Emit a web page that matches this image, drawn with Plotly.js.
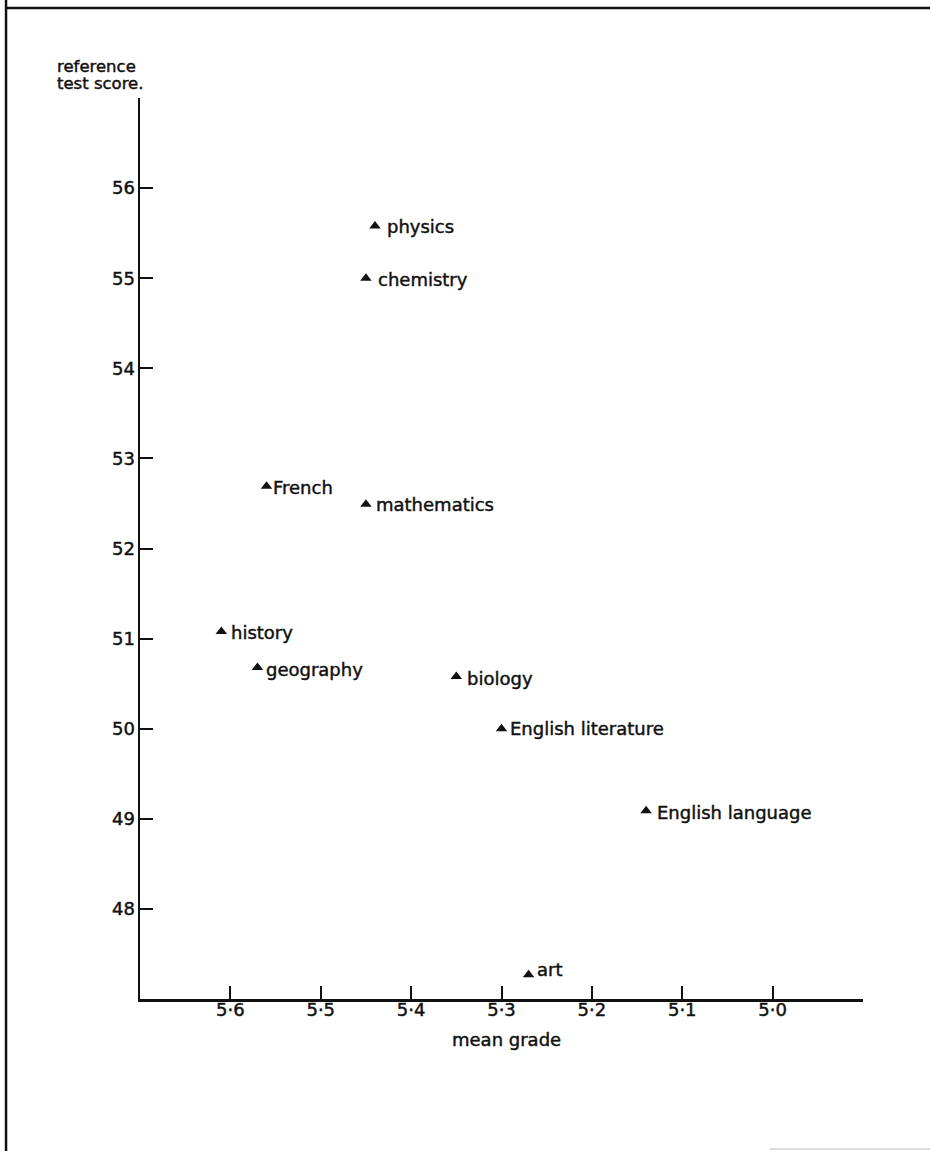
<!DOCTYPE html>
<html>
<head>
<meta charset="utf-8">
<script src="https://cdn.plot.ly/plotly-3.0.1.min.js"></script>
<style>
  html, body { margin: 0; padding: 0; background: #fff; }
  #chart { width: 930px; height: 1151px; }
  /* heavier lettering stroke */
  #chart svg text { stroke: #111; stroke-width: 0.45px; }
</style>
</head>
<body>
<div id="chart"></div>
<script>
// Subjects, their mean grade and mean reference test score
const subjects = ["physics", "chemistry", "French", "mathematics", "history",
                  "geography", "biology", "English literature", "English language", "art"];
const meanGrade = [5.44, 5.45, 5.56, 5.45, 5.61, 5.57, 5.35, 5.30, 5.14, 5.27];
const testScore = [55.58, 55.0, 52.69, 52.49, 51.08, 50.68, 50.58, 50.0, 49.09, 47.27];

// Axis ticks
const xTickVals = [5.6, 5.5, 5.4, 5.3, 5.2, 5.1, 5.0];
const xTickText = ["5·6", "5·5", "5·4", "5·3", "5·2", "5·1", "5·0"];
const yTickVals = [48, 49, 50, 51, 52, 53, 54, 55, 56];

// Label nudges (pixels) beside each marker
const labelDx = [10, 10, 4, 8, 8, 7, 9, 6, 9, 6];
const labelDy = [-1, -1, -1, 0, -1, -2, -2, 0, -2, 5];

const ink = "#111";
const font = "DejaVu Sans, sans-serif";

const trace = {
  type: "scatter",
  mode: "markers",
  x: meanGrade,
  y: testScore,
  marker: { symbol: "triangle-up", size: 10, color: ink, line: { width: 0 } },
  hoverinfo: "skip"
};

const annotations = subjects.map((s, i) => ({
  x: meanGrade[i], y: testScore[i], xref: "x", yref: "y",
  text: s, showarrow: false, xanchor: "left", yanchor: "middle",
  xshift: labelDx[i], yshift: labelDy[i],
  font: { family: font, size: 18, color: ink }
}));

annotations.push(
  { xref: "paper", yref: "paper", x: -0.117, y: 1.0354, xanchor: "left", yanchor: "middle",
    text: "reference", showarrow: false, font: { family: font, size: 16.5, color: ink } },
  { xref: "paper", yref: "paper", x: -0.117, y: 1.0158, xanchor: "left", yanchor: "middle",
    text: "test score.", showarrow: false, font: { family: font, size: 16.5, color: ink } },
  { xref: "paper", yref: "paper", x: 0.5076, y: -0.0452, xanchor: "center", yanchor: "middle",
    text: "mean grade", showarrow: false, font: { family: font, size: 18, color: ink } }
);

// Page frame: left and top rules, faint rule at the lower right
const shapes = [
  { type: "line", xref: "paper", yref: "paper", x0: -0.1853, x1: -0.1853, y0: 1.109, y1: -0.169,
    line: { color: ink, width: 2.5 } },
  { type: "line", xref: "paper", yref: "paper", x0: -0.1853, x1: 1.093, y0: 1.1, y1: 1.1,
    line: { color: ink, width: 2.5 } },
  { type: "line", xref: "paper", yref: "paper", x0: 0.8714, x1: 1.093, y0: -0.1665, y1: -0.1665,
    line: { color: "#bbb", width: 1 } }
];

const axisCommon = {
  showgrid: false, zeroline: false, showline: true,
  linecolor: ink, linewidth: 2.5,
  ticks: "inside", ticklen: 13, tickwidth: 2, tickcolor: ink,
  tickfont: { family: font, size: 18, color: ink },
  tickmode: "array", fixedrange: true
};

const layout = {
  width: 930, height: 1151,
  margin: { l: 140, r: 67, t: 98, b: 152, pad: 0 },
  paper_bgcolor: "#fff", plot_bgcolor: "#fff",
  showlegend: false,
  xaxis: Object.assign({}, axisCommon, {
    range: [5.7, 4.9], tickvals: xTickVals, ticktext: xTickText,
    ticklabelstandoff: -7
  }),
  yaxis: Object.assign({}, axisCommon, {
    range: [47, 57], tickvals: yTickVals,
    ticklabelstandoff: -1
  }),
  annotations: annotations,
  shapes: shapes
};

Plotly.newPlot("chart", [trace], layout, { staticPlot: true, displayModeBar: false });
</script>
</body>
</html>
